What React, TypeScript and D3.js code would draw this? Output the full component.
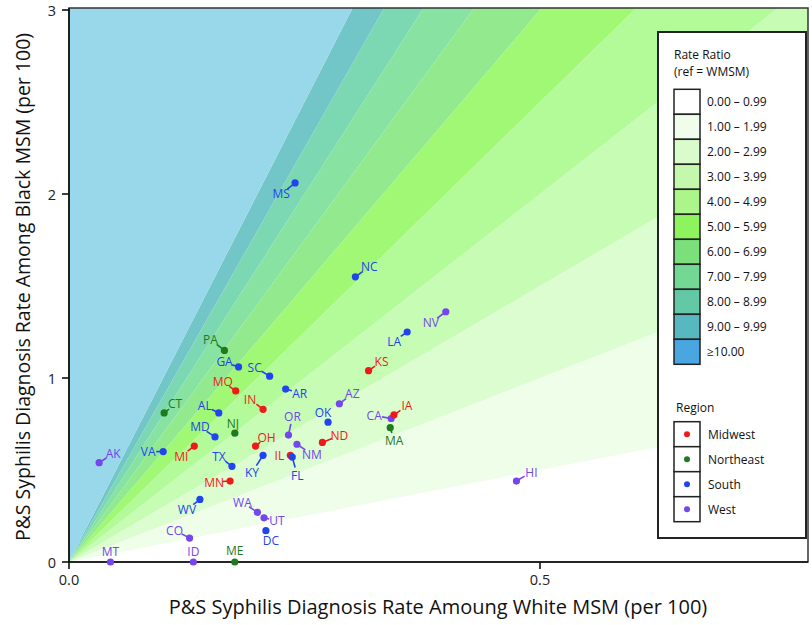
import React from "react";
import * as d3 from "d3";

// ---------- data ----------
const states = ["MS","NC","NV","LA","KS","PA","GA","SC","MO","IN","AR","AZ","CT","AL","MD","NJ","OR","OK","CA","IA","MA","ND","OH","NM","AK","VA","MI","TX","KY","IL","FL","MN","HI","WV","WA","UT","DC","CO","MT","ID","ME"];
const whiteRate = [0.240,0.304,0.400,0.359,0.318,0.165,0.180,0.213,0.177,0.206,0.230,0.287,0.101,0.159,0.155,0.176,0.233,0.275,0.342,0.345,0.341,0.269,0.198,0.242,0.032,0.100,0.133,0.173,0.206,0.235,0.237,0.171,0.475,0.139,0.200,0.207,0.209,0.128,0.044,0.132,0.176];
const blackRate = [2.06,1.55,1.36,1.25,1.04,1.15,1.06,1.01,0.93,0.83,0.94,0.86,0.81,0.81,0.68,0.70,0.69,0.76,0.78,0.80,0.73,0.65,0.63,0.64,0.54,0.60,0.63,0.52,0.58,0.58,0.57,0.44,0.44,0.34,0.27,0.24,0.17,0.13,0,0,0];
const stateRegion = ["South","South","West","South","Midwest","Northeast","South","South","Midwest","Midwest","South","West","Northeast","South","South","Northeast","West","South","West","Midwest","Northeast","Midwest","Midwest","West","West","South","Midwest","South","South","Midwest","South","Midwest","West","South","West","West","South","West","West","West","Northeast"];

const regions = ["Midwest","Northeast","South","West"];
const ratioBreaks = [0,1,2,3,4,5,6,7,8,9,10];
const ratioLabels = ["0.00 – 0.99","1.00 – 1.99","2.00 – 2.99","3.00 – 3.99","4.00 – 4.99","5.00 – 5.99","6.00 – 6.99","7.00 – 7.99","8.00 – 8.99","9.00 – 9.99","≥10.00"];
const xTicks = [0, 0.5];
const yTicks = [0, 1, 2, 3];

// ---------- styles / layout ----------
const regionColor: Record<string,string> = {
  Midwest: "#ee1a1a",
  Northeast: "#1f7a1f",
  South: "#2244ee",
  West: "#7446ec",
};
const plotBandColors = ["#ffffff","#eefee8","#dbfdcf","#c6fcb4","#b2fb98","#a0f874","#93ea8e","#88e2a2","#7cd8b2","#72c6c8","#98d8ea"];
const legendBandColors = ["#ffffff","#f0fded","#dafbcc","#c4f8ac","#abf58a","#8ef45e","#7be07a","#72d894","#62c8a6","#58b8c0","#4aa6e0"];

// label offsets (pixels) of label centre relative to point
const labelOffset: Record<string,[number,number]> = {
  MS:[-14,11], NC:[14,-10], NV:[-15,11], LA:[-13,9], KS:[13,-9], PA:[-14,-11], GA:[-14,-5], SC:[-15,-9],
  MO:[-13,-9], IN:[-13,-10], AR:[14,4], AZ:[13,-10], CT:[11,-9], AL:[-14,-7], MD:[-15,-10], NJ:[-2,-10],
  OR:[4,-19], OK:[-5,-10], CA:[-17,-3], IA:[13,-9], MA:[4,13], ND:[17,-7], OH:[11,-9], NM:[15,10],
  AK:[14,-9], VA:[-15,0], MI:[-13,10], TX:[-13,-10], KY:[-11,17], IL:[-11,0], FL:[5,18], MN:[-16,1],
  HI:[15,-9], WV:[-13,10], WA:[-15,-10], UT:[13,3], DC:[5,10], CO:[-15,-8], MT:[0,-11], ID:[0,-11], ME:[0,-12],
};

const W = 812, H = 625;
const left = 69, right = 808, top = 8, bottom = 562;
const FONT = "'Open Sans', 'Noto Sans', sans-serif";

export default function App() {
  const xMax = 0.7845;
  const x = d3.scaleLinear().domain([0, xMax]).range([left, right]);
  const y = d3.scaleLinear().domain([0, 3]).range([bottom, 10]);
  const yBig = 100;

  const bands = ratioBreaks.map((k, i) => {
    const k2 = i < ratioBreaks.length - 1 ? ratioBreaks[i + 1] : null;
    let pts: [number, number][];
    if (k2 === null) {
      pts = [[0, 0], [xMax, k * xMax], [xMax, yBig], [0, yBig]];
    } else {
      pts = [[0, 0], [xMax, k * xMax], [xMax, k2 * xMax]];
      if (k2 * xMax > 3.2) pts = [[0, 0], [xMax, k * xMax], [xMax, Math.max(k * xMax, 3.2)], [3.2 / k2, 3.2]];
      if (k * xMax > 3.2) pts = [[0, 0], [3.2 / k, 3.2], [3.2 / k2, 3.2]];
    }
    const d = d3.line()(pts.map(([a, b]) => [x(a), y(b)]) as [number, number][]);
    return <path key={"band" + i} d={d + "Z"} fill={plotBandColors[i]} />;
  });

  const points = states.map((s, i) => {
    const px = x(whiteRate[i]);
    const py = y(blackRate[i]);
    const col = regionColor[stateRegion[i]];
    const [dx, dy] = labelOffset[s] || [0, -11];
    const L = Math.hypot(dx, dy);
    const f = L > 12 ? (L - 8) / L : 0;
    return (
      <g key={s}>
        {f > 0 && (
          <line x1={px} y1={py} x2={px + dx * f} y2={py + dy * f} stroke={col} strokeWidth={1.6} />
        )}
        <circle cx={px} cy={py} r={3.6} fill={col} />
        <text x={px + dx} y={py + dy} fill={col} fontSize={12} textAnchor="middle" dominantBaseline="central" fontFamily={FONT}>{s}</text>
      </g>
    );
  });

  const legX = 658, legY = 32, legW = 148, legH = 506;
  const swX = 674, swW = 26, swH = 25, sw0 = 89.3;
  const reg0 = 421.7;

  return (
    <svg width={W} height={H} style={{ position: "absolute", left: 0, top: 0, background: "#fff" }} fontFamily={FONT}>
      <defs>
        <clipPath id="plotclip">
          <rect x={left} y={top} width={right - left} height={bottom - top} />
        </clipPath>
      </defs>
      <g clipPath="url(#plotclip)">
        <rect x={left} y={top} width={right - left} height={bottom - top} fill="#fff" />
        {bands}
      </g>
      {/* frame */}
      <rect x={left} y={top} width={right - left} height={bottom - top} fill="none" stroke="#333" strokeWidth={1.5} />
      {/* axes */}
      <line x1={left} y1={top} x2={left} y2={bottom} stroke="#111" strokeWidth={1.6} />
      <line x1={left} y1={bottom} x2={right} y2={bottom} stroke="#111" strokeWidth={1.6} />
      {yTicks.map((t) => (
        <g key={"yt" + t}>
          <line x1={left - 7} x2={left} y1={y(t)} y2={y(t)} stroke="#111" strokeWidth={1.6} />
          <text x={left - 13} y={y(t)} fontSize={14.5} textAnchor="end" dominantBaseline="central" fill="#222">{t}</text>
        </g>
      ))}
      {xTicks.map((t) => (
        <g key={"xt" + t}>
          <line x1={x(t)} x2={x(t)} y1={bottom} y2={bottom + 7} stroke="#111" strokeWidth={1.6} />
          <text x={x(t)} y={bottom + 17} fontSize={14.5} textAnchor="middle" dominantBaseline="central" fill="#222">{d3.format(".1f")(t)}</text>
        </g>
      ))}
      <text x={438} y={606} fontSize={20} textAnchor="middle" dominantBaseline="central" fill="#111">P&amp;S Syphilis Diagnosis Rate Amoung White MSM (per 100)</text>
      <text transform={`translate(22,${(top + bottom) / 2 + 2}) rotate(-90)`} fontSize={19.5} textAnchor="middle" dominantBaseline="central" fill="#111">P&amp;S Syphilis Diagnosis Rate Among Black MSM (per 100)</text>

      {points}

      {/* legend */}
      <rect x={legX} y={legY} width={legW} height={legH} fill="#fff" stroke="#222" strokeWidth={2} />
      <text x={674} y={59} fontSize={12} fill="#111">Rate Ratio</text>
      <text x={674} y={75.5} fontSize={12} fill="#111">(ref = WMSM)</text>
      {ratioLabels.map((lab, i) => (
        <g key={"lg" + i}>
          <rect x={swX} y={sw0 + i * swH} width={swW} height={swH} fill={legendBandColors[i]} stroke="#222" strokeWidth={1.5} />
          <text x={707} y={sw0 + i * swH + swH / 2} fontSize={12} dominantBaseline="central" fill="#111">{lab}</text>
        </g>
      ))}
      <text x={676} y={411.5} fontSize={12} fill="#111">Region</text>
      {regions.map((r, i) => (
        <g key={"rg" + r}>
          <rect x={swX} y={reg0 + i * swH} width={swW} height={swH} fill="#fff" stroke="#222" strokeWidth={1.5} />
          <circle cx={swX + swW / 2} cy={reg0 + i * swH + swH / 2} r={3} fill={regionColor[r]} />
          <text x={708} y={reg0 + i * swH + swH / 2} fontSize={12} dominantBaseline="central" fill="#111">{r}</text>
        </g>
      ))}
    </svg>
  );
}
